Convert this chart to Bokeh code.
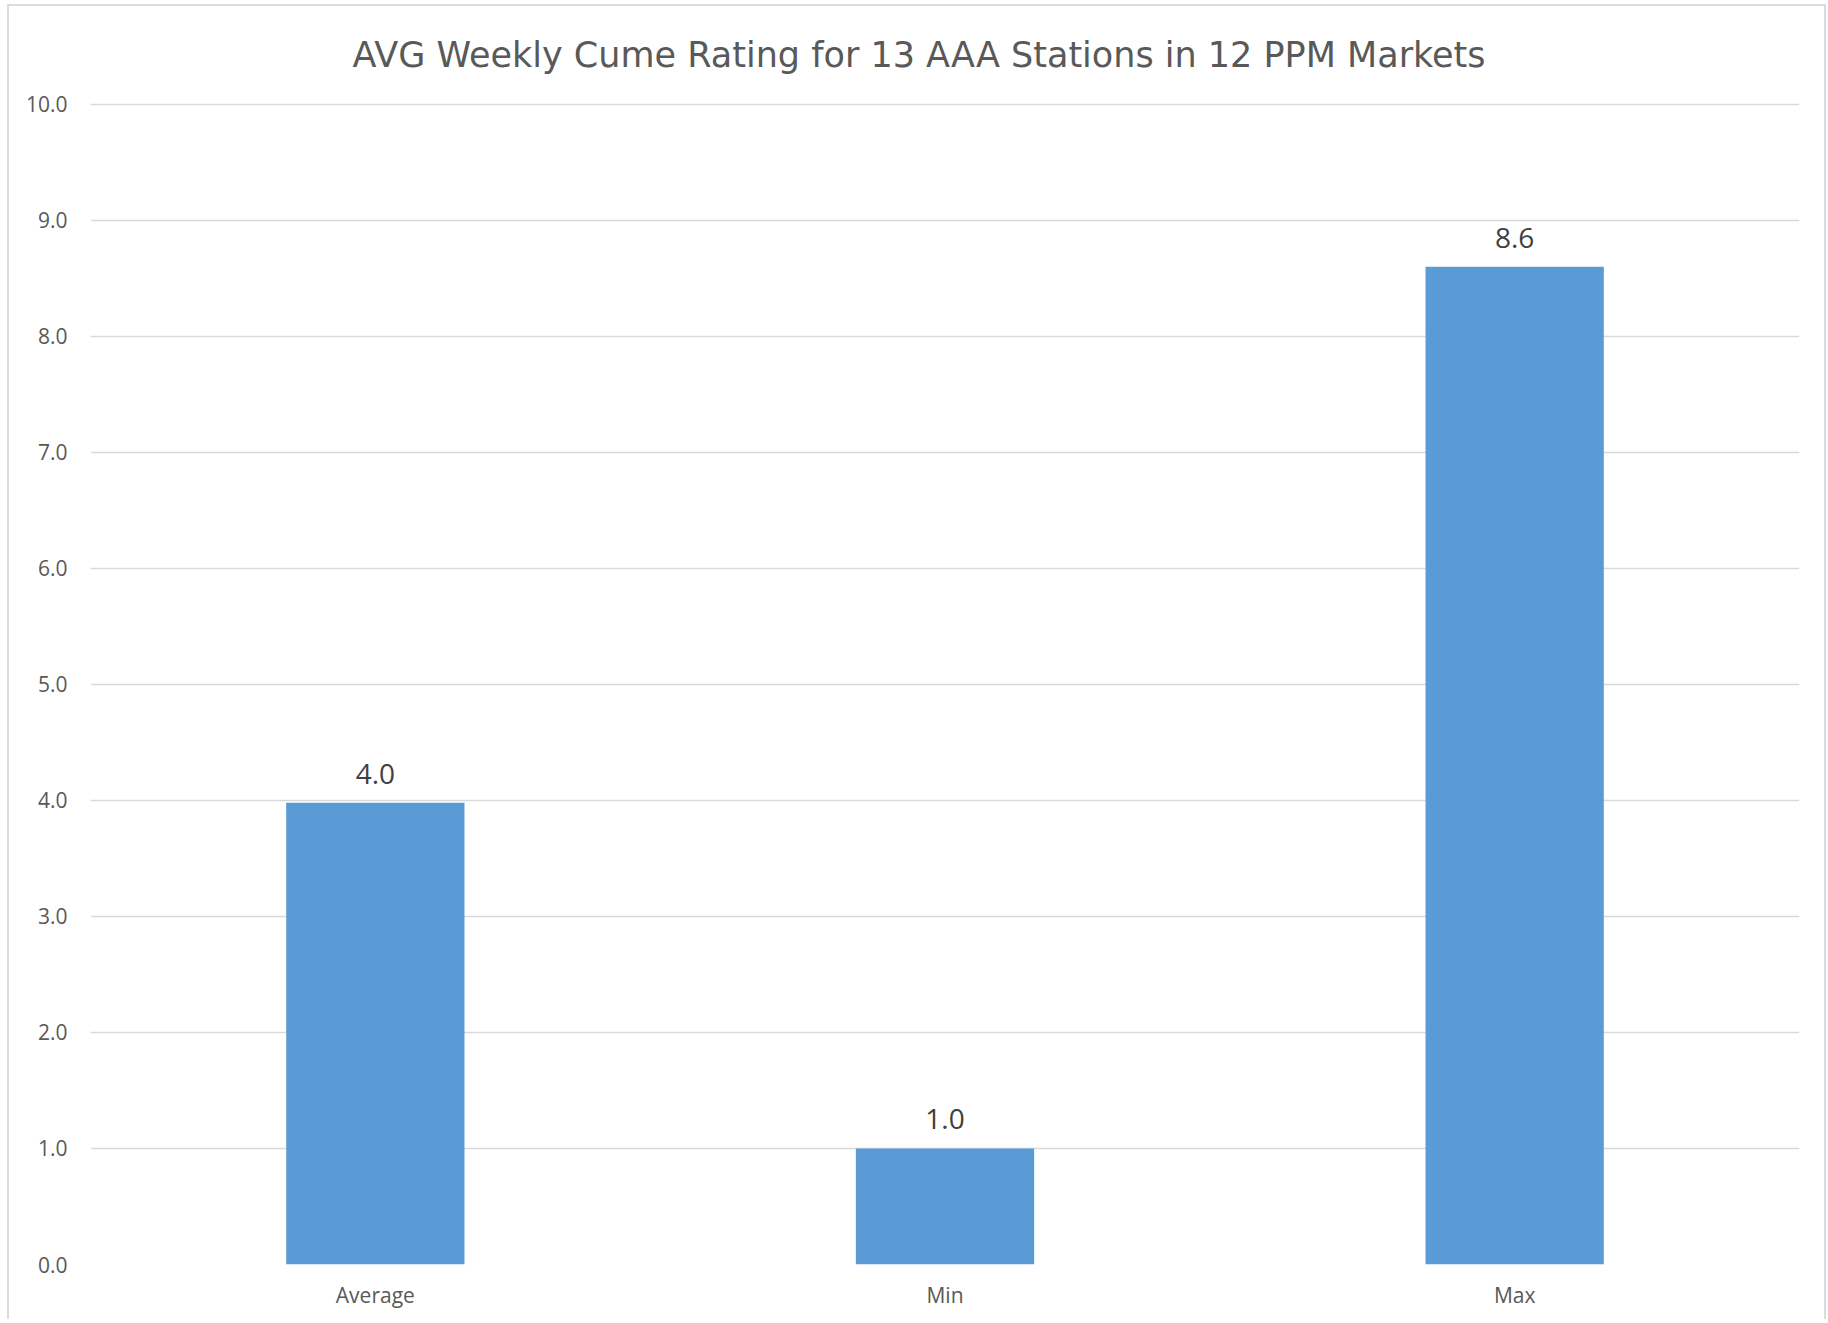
from bokeh.plotting import figure
from bokeh.models import ColumnDataSource, LabelSet, FixedTicker, NumeralTickFormatter, FactorRange, Range1d
from bokeh.core.properties import value
from bokeh.embed import file_html
from bokeh.resources import INLINE

categories = ["Average", "Min", "Max"]
values = [3.98, 1.0, 8.6]
labels = [f"{v:.1f}" for v in values]
y_ticks = [0, 1, 2, 3, 4, 5, 6, 7, 8, 9, 10]

src = ColumnDataSource(dict(cat=categories, val=values, lab=labels))

p = figure(
    x_range=FactorRange(*categories, range_padding=0),
    y_range=Range1d(0, 10.025),
    width=1815, height=1312,
    frame_width=1709, frame_height=1163,
    min_border_left=81, min_border_right=25, min_border_top=94, min_border_bottom=55,
    output_backend="svg", toolbar_location=None,
    title="AVG Weekly Cume Rating for 13 AAA Stations in 12 PPM Markets",
)
p.styles = {"border": "2px solid #dcdcdc", "border-bottom": "none",
            "margin-left": "7px", "margin-top": "4px"}

p.title.align = "left"
p.title.offset = 262
p.title.text_font = "DejaVu Sans"
p.title.text_font_style = "normal"
p.title.text_font_size = "35px"
p.title.text_color = "#595959"
p.title.standoff = 53

p.vbar(x="cat", top="val", width=0.313, source=src, color="#5B9BD5", line_color=None)

lbl = LabelSet(x="cat", y="val", text="lab", source=src, text_align="center",
               text_baseline="bottom", y_offset=19, text_font_size="28px",
               text_color="#404040", text_font=value("Open Sans"))
p.add_layout(lbl)

p.yaxis.ticker = FixedTicker(ticks=y_ticks)
p.yaxis.formatter = NumeralTickFormatter(format="0.0")
for ax in (p.xaxis, p.yaxis):
    ax.axis_line_color = None
    ax.major_tick_line_color = None
    ax.minor_tick_line_color = None
    ax.major_label_text_font = "Open Sans"
    ax.major_label_text_font_size = "21px"
    ax.major_label_text_color = "#595959"
p.yaxis.major_label_standoff = 17
p.xaxis.major_label_standoff = 10

p.xgrid.grid_line_color = None
p.ygrid.grid_line_color = "#d9d9d9"
p.ygrid.grid_line_width = 1.5
p.outline_line_color = None
p.background_fill_color = "white"
p.border_fill_color = "white"

open("out.html", "w").write(file_html(p, INLINE))
